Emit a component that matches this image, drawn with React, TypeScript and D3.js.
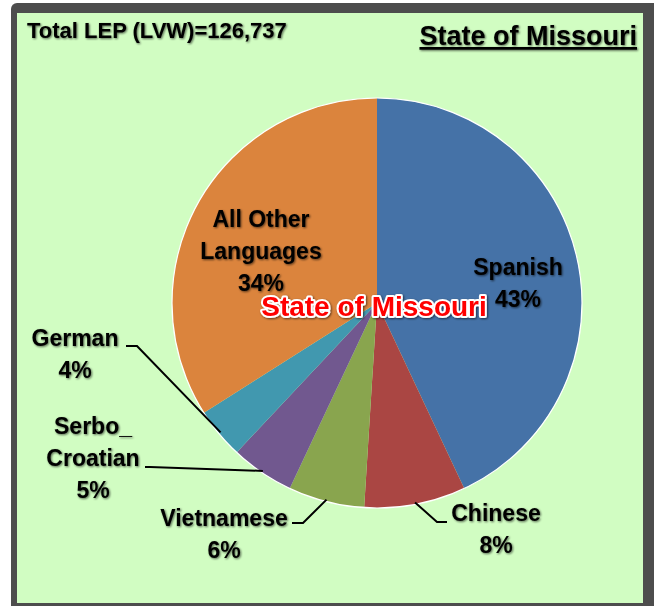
import React, { useEffect, useRef } from 'react';
import * as d3 from 'd3';

const languages = ['Spanish', 'Chinese', 'Vietnamese', 'Serbo_ Croatian', 'German', 'All Other Languages'];
const shares = [43, 8, 6, 5, 4, 34];
const sliceColors = ['#4572A7', '#AA4643', '#89A54E', '#71588F', '#4198AF', '#DB843D'];
const totalLabel = 'Total LEP (LVW)=126,737';
const stateName = 'State of Missouri';

// label placement, tuned by eye (lines of text + optional leader elbow)
const labelLayout: Record<string, { x: number; y: number; lines: string[]; elbow?: [number, number][] }> = {
  'Spanish': { x: 518, y: 275, lines: ['Spanish'] },
  'Chinese': { x: 496, y: 521, lines: ['Chinese'], elbow: [[447, 522], [437, 522]] },
  'Vietnamese': { x: 224, y: 526, lines: ['Vietnamese'], elbow: [[292, 523], [303, 523]] },
  'Serbo_ Croatian': { x: 93, y: 434, lines: ['Serbo_', 'Croatian'], elbow: [[145, 467], [150, 467]] },
  'German': { x: 75, y: 346, lines: ['German'], elbow: [[126, 346], [137, 346]] },
  'All Other Languages': { x: 261, y: 227, lines: ['All Other', 'Languages'] },
};

export default function App() {
  const svgRef = useRef<SVGSVGElement>(null);

  useEffect(() => {
    if (!svgRef.current) return;
    const svg = d3.select(svgRef.current);
    svg.selectAll('*').remove();

    const width = 654;
    const height = 606;
    const cx = 377;
    const cy = 303;
    const radius = 205;
    const font = '"Liberation Sans", Arial, sans-serif';

    // Filters for the soft dark text shadow
    const defs = svg.append('defs');
    const f = defs.append('filter').attr('id', 'shadow')
      .attr('x', '-10%').attr('y', '-20%').attr('width', '120%').attr('height', '140%');
    f.append('feGaussianBlur').attr('in', 'SourceAlpha').attr('stdDeviation', 1).attr('result', 'b');
    f.append('feOffset').attr('in', 'b').attr('dx', 1).attr('dy', 1).attr('result', 'o');
    f.append('feComponentTransfer').attr('in', 'o').attr('result', 'o2')
      .append('feFuncA').attr('type', 'linear').attr('slope', 0.6);
    const m = f.append('feMerge');
    m.append('feMergeNode').attr('in', 'o2');
    m.append('feMergeNode').attr('in', 'SourceGraphic');

    svg.append('rect').attr('width', width).attr('height', height).attr('fill', '#ffffff');

    // Frame
    svg.append('rect')
      .attr('x', 11).attr('y', 3).attr('width', 650).attr('height', 620)
      .attr('rx', 6).attr('fill', '#4D4D4D');
    svg.append('rect')
      .attr('x', 17).attr('y', 13).attr('width', 626).attr('height', 590)
      .attr('fill', '#D1FDC2');

    // Pie
    const pie = d3.pie<number>().sort(null).value(d => d);
    const arcs = pie(shares);
    const arc = d3.arc<d3.PieArcDatum<number>>().innerRadius(0).outerRadius(radius);

    const g = svg.append('g').attr('transform', `translate(${cx},${cy})`);
    g.selectAll('path.slice')
      .data(arcs)
      .enter()
      .append('path')
      .attr('class', 'slice')
      .attr('d', arc)
      .attr('fill', (_, i) => sliceColors[i]);
    g.append('circle').attr('r', radius).attr('fill', 'none')
      .attr('stroke', '#ffffff').attr('stroke-width', 1.2);

    // Leader lines
    arcs.forEach((a, i) => {
      const lay = labelLayout[languages[i]];
      if (!lay.elbow) return;
      const mid = (a.startAngle + a.endAngle) / 2;
      const r = radius - 2;
      const px = cx + r * Math.sin(mid);
      const py = cy - r * Math.cos(mid);
      const pts: [number, number][] = [...lay.elbow, [px, py]];
      svg.append('path')
        .attr('d', d3.line()(pts))
        .attr('fill', 'none')
        .attr('stroke', '#000')
        .attr('stroke-width', 2);
    });

    // Labels
    const lineGap = 32;
    arcs.forEach((a, i) => {
      const lay = labelLayout[languages[i]];
      const t = svg.append('text')
        .attr('font-family', font)
        .attr('font-weight', 'bold')
        .attr('font-size', 23)
        .attr('fill', '#000')
        .attr('text-anchor', 'middle')
        .attr('filter', 'url(#shadow)');
      const rows = [...lay.lines, `${shares[i]}%`];
      rows.forEach((row, j) => {
        t.append('tspan').attr('x', lay.x).attr('y', lay.y + j * lineGap).text(row);
      });
    });

    // Center watermark-like title
    svg.append('text')
      .attr('x', 374).attr('y', 316)
      .attr('text-anchor', 'middle')
      .attr('font-family', font).attr('font-weight', 'bold').attr('font-size', 28)
      .attr('fill', '#FF0000')
      .attr('stroke', '#ffffff').attr('stroke-width', 4).attr('stroke-linejoin', 'round')
      .attr('paint-order', 'stroke')
      .attr('filter', 'url(#shadow)')
      .text(stateName);

    // Top texts
    svg.append('text')
      .attr('x', 27).attr('y', 38)
      .attr('font-family', font).attr('font-weight', 'bold').attr('font-size', 22)
      .attr('fill', '#000').attr('filter', 'url(#shadow)')
      .text(totalLabel);

    svg.append('text')
      .attr('x', 637).attr('y', 45)
      .attr('text-anchor', 'end')
      .attr('font-family', font).attr('font-weight', 'bold').attr('font-size', 27)
      .attr('fill', '#000').attr('filter', 'url(#shadow)')
      .attr('text-decoration', 'underline')
      .text(stateName);
  }, []);

  return (
    <svg
      ref={svgRef}
      width={654}
      height={606}
      style={{ position: 'absolute', left: 0, top: 0, display: 'block' }}
    />
  );
}
